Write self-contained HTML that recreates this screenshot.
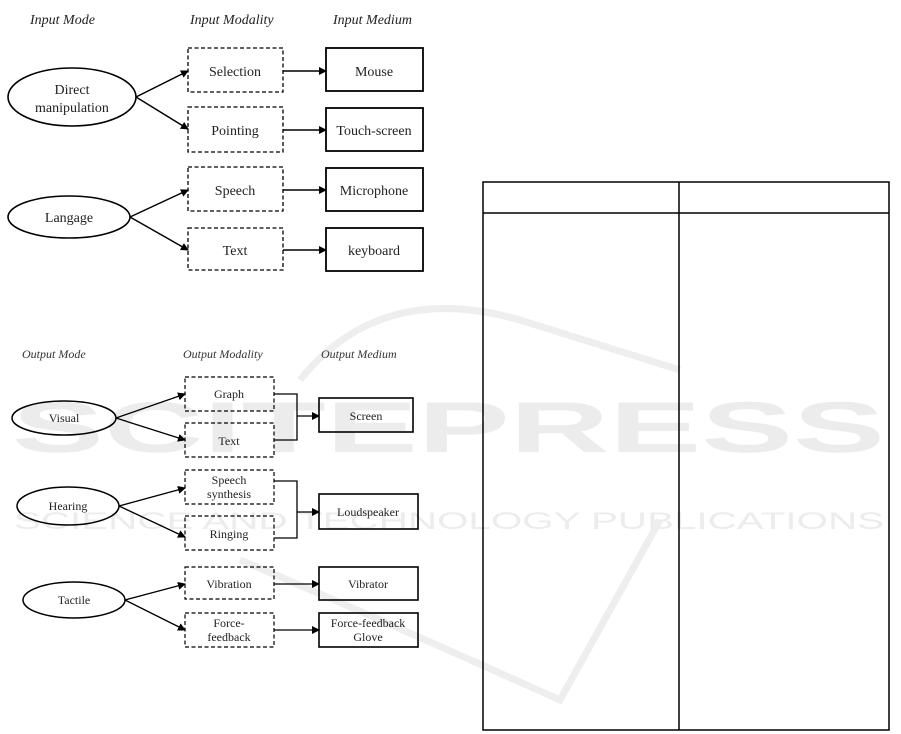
<!DOCTYPE html>
<html><head><meta charset="utf-8"><style>
html,body{margin:0;padding:0;background:#fff;}
svg{display:block;}
text{font-family:"Liberation Serif",serif;}
</style></head><body>
<svg width="901" height="734" viewBox="0 0 901 734" xmlns="http://www.w3.org/2000/svg">
<defs>
<marker id="a" markerWidth="8" markerHeight="8" refX="7" refY="4" orient="auto" markerUnits="userSpaceOnUse">
<path d="M0,0 L8,4 L0,8 z" fill="#000"/></marker>
</defs>
<!-- watermark -->
<g fill="#ececec">
<text x="12" y="452" font-weight="bold" font-size="72" textLength="873" lengthAdjust="spacingAndGlyphs" style="font-family:'Liberation Sans',sans-serif">SCITEPRESS</text>
<text x="14" y="529" font-size="24" textLength="870" lengthAdjust="spacingAndGlyphs" style="font-family:'Liberation Sans',sans-serif">SCIENCE AND TECHNOLOGY PUBLICATIONS</text>
</g>
<g fill="none" stroke="#eeeeee" stroke-width="7">
<path d="M300,380 Q380,280 520,320 Q600,345 680,370"/>
<path d="M240,560 Q360,610 560,700 L660,520"/>
</g>
<!-- table -->
<g fill="none" stroke="#000" stroke-width="1.5">
<rect x="483" y="182" width="406" height="548"/>
<line x1="483" y1="213" x2="889" y2="213"/>
<line x1="679" y1="182" x2="679" y2="730"/>
</g>
<!-- input section -->
<g font-style="italic" font-size="14" fill="#222">
<text x="30" y="24">Input Mode</text>
<text x="190" y="24">Input Modality</text>
<text x="333" y="24">Input Medium</text>
</g>
<g fill="none" stroke="#000" stroke-width="1.6">
<ellipse cx="72" cy="97" rx="64" ry="29"/>
<ellipse cx="69" cy="217" rx="61" ry="21"/>
</g>
<g fill="none" stroke="#000" stroke-width="1.3" stroke-dasharray="4,2.5">
<rect x="188" y="48" width="95" height="44"/>
<rect x="188" y="107" width="95" height="45"/>
<rect x="188" y="167" width="95" height="44"/>
<rect x="188" y="228" width="95" height="42"/>
</g>
<g fill="none" stroke="#000" stroke-width="1.8">
<rect x="326" y="48" width="97" height="43"/>
<rect x="326" y="108" width="97" height="43"/>
<rect x="326" y="168" width="97" height="43"/>
<rect x="326" y="228" width="97" height="43"/>
</g>
<g stroke="#000" stroke-width="1.5" marker-end="url(#a)">
<line x1="136" y1="97" x2="188" y2="71"/>
<line x1="136" y1="97" x2="188" y2="129"/>
<line x1="130" y1="217" x2="188" y2="190"/>
<line x1="130" y1="217" x2="188" y2="250"/>
<line x1="283" y1="71" x2="326" y2="71"/>
<line x1="283" y1="130" x2="326" y2="130"/>
<line x1="283" y1="190" x2="326" y2="190"/>
<line x1="283" y1="250" x2="326" y2="250"/>
</g>
<g font-size="14" fill="#222" text-anchor="middle">
<text x="72" y="94">Direct</text>
<text x="72" y="112">manipulation</text>
<text x="69" y="222">Langage</text>
<text x="235" y="76">Selection</text>
<text x="235" y="135">Pointing</text>
<text x="235" y="195">Speech</text>
<text x="235" y="255">Text</text>
<text x="374" y="76">Mouse</text>
<text x="374" y="135">Touch-screen</text>
<text x="374" y="195">Microphone</text>
<text x="374" y="255">keyboard</text>
</g>
<!-- output section -->
<g font-style="italic" font-size="12" fill="#333">
<text x="22" y="358">Output Mode</text>
<text x="183" y="358">Output Modality</text>
<text x="321" y="358">Output Medium</text>
</g>
<g fill="none" stroke="#000" stroke-width="1.5">
<ellipse cx="64" cy="418" rx="52" ry="17"/>
<ellipse cx="68" cy="506" rx="51" ry="19"/>
<ellipse cx="74" cy="600" rx="51" ry="18"/>
</g>
<g fill="none" stroke="#000" stroke-width="1.2" stroke-dasharray="4,2.5">
<rect x="185" y="377" width="89" height="34"/>
<rect x="185" y="423" width="89" height="34"/>
<rect x="185" y="470" width="89" height="34"/>
<rect x="185" y="516" width="89" height="34"/>
<rect x="185" y="567" width="89" height="32"/>
<rect x="185" y="613" width="89" height="34"/>
</g>
<g fill="none" stroke="#000" stroke-width="1.6">
<rect x="319" y="398" width="94" height="34"/>
<rect x="319" y="494" width="99" height="35"/>
<rect x="319" y="567" width="99" height="33"/>
<rect x="319" y="613" width="99" height="34"/>
</g>
<g fill="none" stroke="#000" stroke-width="1.3">
<polyline points="274,394 297,394 297,440 274,440"/>
<polyline points="274,481 297,481 297,538 274,538"/>
</g>
<g stroke="#000" stroke-width="1.3" marker-end="url(#a)">
<line x1="116" y1="418" x2="185" y2="394"/>
<line x1="116" y1="418" x2="185" y2="440"/>
<line x1="119" y1="506" x2="185" y2="488"/>
<line x1="119" y1="506" x2="185" y2="537"/>
<line x1="125" y1="600" x2="185" y2="584"/>
<line x1="125" y1="600" x2="185" y2="630"/>
<line x1="297" y1="416" x2="319" y2="416"/>
<line x1="297" y1="512" x2="319" y2="512"/>
<line x1="274" y1="584" x2="319" y2="584"/>
<line x1="274" y1="630" x2="319" y2="630"/>
</g>
<g font-size="12" fill="#222" text-anchor="middle">
<text x="64" y="422">Visual</text>
<text x="68" y="510">Hearing</text>
<text x="74" y="604">Tactile</text>
<text x="229" y="398">Graph</text>
<text x="229" y="445">Text</text>
<text x="229" y="484">Speech</text>
<text x="229" y="498">synthesis</text>
<text x="229" y="538">Ringing</text>
<text x="229" y="588">Vibration</text>
<text x="229" y="627">Force-</text>
<text x="229" y="641">feedback</text>
<text x="366" y="420">Screen</text>
<text x="368" y="516">Loudspeaker</text>
<text x="368" y="588">Vibrator</text>
<text x="368" y="627">Force-feedback</text>
<text x="368" y="641">Glove</text>
</g>
</svg>
</body></html>
